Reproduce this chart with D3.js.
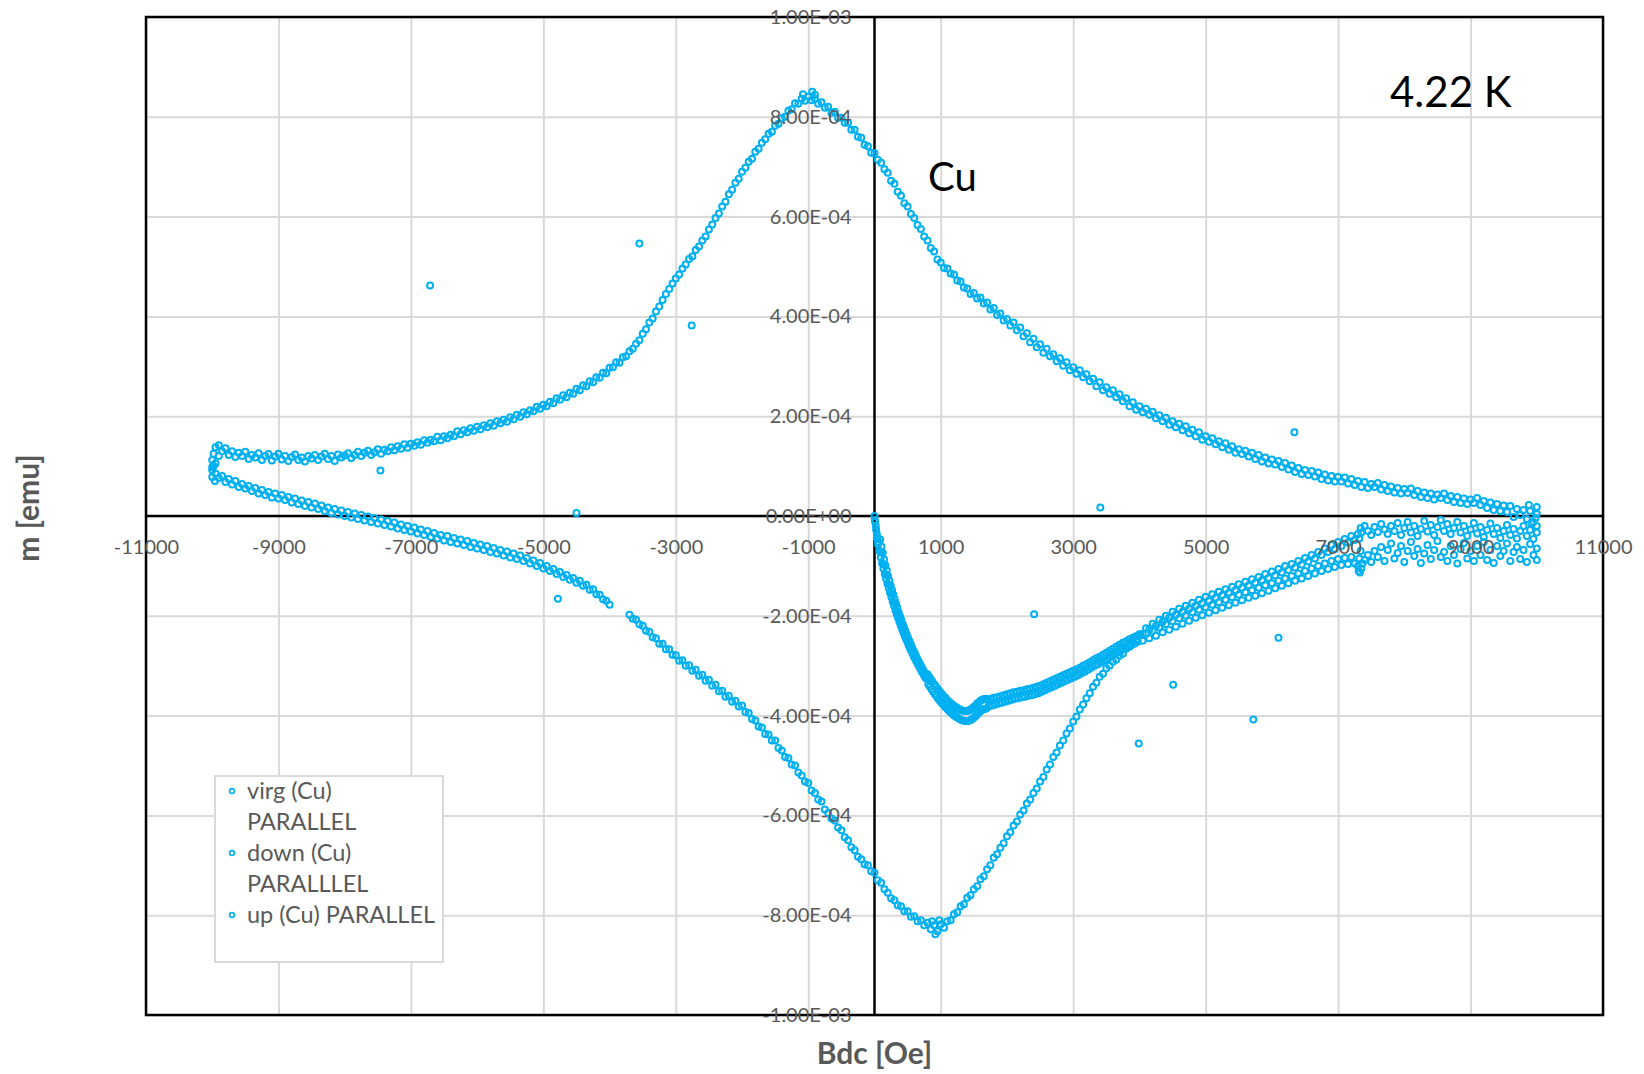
<!DOCTYPE html>
<html>
<head>
<meta charset="utf-8">
<script src="https://cdn.jsdelivr.net/npm/d3@7"></script>
<style>
  body { margin: 0; background: #fff; }
  text { font-family: Lato, "Open Sans", sans-serif; }
</style>
</head>
<body>
<svg id="chart"></svg>
<script>
// Axis ticks (field in Oe, moment in units of 1e-4 emu)
const xTicks = [-11000, -9000, -7000, -5000, -3000, -1000, 1000, 3000, 5000, 7000, 9000, 11000];
const yTicks = [-10, -8, -6, -4, -2, 0, 2, 4, 6, 8, 10];
const yTickLabels = ["-1.00E-03", "-8.00E-04", "-6.00E-04", "-4.00E-04", "-2.00E-04", "0.00E+00",
  "2.00E-04", "4.00E-04", "6.00E-04", "8.00E-04", "1.00E-03"];

const legendLines = [["virg (Cu)", "PARALLEL"], ["down (Cu)", "PARALLLEL"], ["up (Cu) PARALLEL"]];

// virgin curve: [Bdc (Oe), m (1e-4 emu)]
const virgData = [
  [0,0.0],[5,-0.08],[10,-0.12],[20,-0.2],[25,-0.28],[35,-0.36],[45,-0.44],[55,-0.52],
  [35,-0.43],[85,-0.47],[55,-0.57],[105,-0.61],[75,-0.7],[125,-0.74],[95,-0.83],[145,-0.87],
  [115,-0.95],[165,-0.99],[135,-1.05],[185,-1.09],[155,-1.16],[205,-1.2],[175,-1.26],[225,-1.3],
  [195,-1.36],[245,-1.4],[215,-1.45],[265,-1.49],[235,-1.54],[285,-1.58],[255,-1.63],[305,-1.67],
  [275,-1.72],[325,-1.76],[295,-1.8],[345,-1.84],[315,-1.89],[365,-1.93],[335,-1.97],[385,-2.01],
  [355,-2.04],[405,-2.08],[375,-2.12],[425,-2.16],[395,-2.19],[445,-2.23],[415,-2.26],[465,-2.3],
  [435,-2.33],[485,-2.37],[455,-2.4],[505,-2.44],[475,-2.46],[525,-2.5],[495,-2.52],[545,-2.56],
  [515,-2.59],[565,-2.63],[535,-2.65],[585,-2.69],[555,-2.7],[605,-2.74],[575,-2.76],[625,-2.8],
  [595,-2.82],[645,-2.86],[615,-2.87],[665,-2.91],[635,-2.92],[685,-2.96],[655,-2.97],[705,-3.01],
  [675,-3.02],[725,-3.06],[695,-3.07],[745,-3.11],[715,-3.12],[765,-3.16],[735,-3.16],[785,-3.2],
  [755,-3.21],[805,-3.25],[775,-3.25],[825,-3.29],
  [100,-0.72],[140,-0.97],[180,-1.18],[220,-1.38],[260,-1.56],[300,-1.74],[340,-1.91],[380,-2.06],
  [420,-2.21],[460,-2.35],[500,-2.48],[540,-2.61],[580,-2.72],[620,-2.84],[660,-2.94],[700,-3.04],
  [740,-3.14],[780,-3.23],
  [800,-3.17],[812,-3.37],[825,-3.22],[837,-3.42],[850,-3.27],[862,-3.47],[875,-3.32],[887,-3.52],
  [900,-3.37],[912,-3.57],[925,-3.41],[937,-3.61],[950,-3.46],[962,-3.66],[975,-3.5],[987,-3.7],
  [1000,-3.54],[1012,-3.74],[1025,-3.58],[1037,-3.78],[1050,-3.62],[1062,-3.82],[1075,-3.65],[1087,-3.85],
  [1100,-3.69],[1112,-3.89],[1125,-3.72],[1137,-3.92],[1150,-3.75],[1162,-3.95],[1175,-3.78],[1187,-3.98],
  [1200,-3.81],[1212,-4.01],[1225,-3.83],[1237,-4.03],[1250,-3.85],[1262,-4.05],[1275,-3.87],[1287,-4.07],
  [1300,-3.89],[1312,-4.09],[1325,-3.9],[1337,-4.1],[1350,-3.91],[1362,-4.11],[1375,-3.91],[1387,-4.11],
  [1400,-3.91],[1412,-4.11],[1425,-3.9],[1437,-4.1],[1450,-3.88],[1462,-4.08],[1475,-3.86],[1487,-4.06],
  [1500,-3.83],[1512,-4.03],[1525,-3.8],[1537,-4.0],[1550,-3.76],[1562,-3.96],[1575,-3.73],[1587,-3.93],
  [1600,-3.7],[1612,-3.9],[1625,-3.68],[1637,-3.88],[1650,-3.67],[1662,-3.87],[1675,-3.66],[1687,-3.86],
  [1700,-3.68],[1725,-3.82],[1750,-3.66],[1775,-3.8],[1800,-3.64],[1825,-3.78],[1850,-3.63],[1875,-3.76],
  [1900,-3.61],[1925,-3.74],[1950,-3.59],[1975,-3.72],[2000,-3.57],[2025,-3.7],[2050,-3.55],[2075,-3.68],
  [2100,-3.53],[2125,-3.66],[2150,-3.52],[2175,-3.65],[2200,-3.5],[2225,-3.63],[2250,-3.49],[2275,-3.62],
  [2300,-3.47],[2325,-3.6],[2350,-3.46],[2375,-3.59],[2400,-3.44],[2425,-3.57],[2450,-3.42],[2475,-3.55],
  [2500,-3.4],[2525,-3.52],[2550,-3.37],[2575,-3.49],[2600,-3.34],[2625,-3.46],[2650,-3.31],[2675,-3.43],
  [2700,-3.28],[2725,-3.4],[2750,-3.25],[2775,-3.37],[2800,-3.22],[2825,-3.34],[2850,-3.19],[2875,-3.31],
  [2900,-3.16],[2925,-3.28],[2950,-3.13],[2975,-3.25],[3000,-3.1],[3025,-3.22],[3050,-3.07],[3075,-3.19],
  [3100,-3.04],[3125,-3.15],[3150,-3.0],[3175,-3.12],[3200,-2.97],[3225,-3.08],[3250,-2.93],[3275,-3.04],
  [3300,-2.89],[3325,-3.0],[3350,-2.85],[3375,-2.97],[3400,-2.82],[3425,-2.93],[3450,-2.78],[3475,-2.89],
  [3500,-2.74],[3525,-2.85],[3550,-2.7],[3575,-2.81],[3600,-2.66],[3625,-2.77],[3650,-2.62],[3675,-2.73],
  [3700,-2.58],[3725,-2.69],[3750,-2.54],[3775,-2.66],[3800,-2.51],[3825,-2.62],[3850,-2.47],[3875,-2.59],
  [3900,-2.44],[3925,-2.56],[3950,-2.41],[3975,-2.52],[4000,-2.4],
  [4050,-2.5],[4100,-2.36],[4150,-2.45],[4200,-2.3],[4250,-2.4],[4300,-2.24],[4350,-2.33],[4400,-2.17],
  [4450,-2.28],[4500,-2.11],[4550,-2.22],[4600,-2.05],[4650,-2.16],[4700,-2.0],[4750,-2.1],[4800,-1.93],
  [4850,-2.04],[4900,-1.88],[4950,-1.99],[5000,-1.83],[5050,-1.94],[5100,-1.78],[5150,-1.89],[5200,-1.73],
  [5250,-1.84],[5300,-1.68],[5350,-1.79],[5400,-1.63],[5450,-1.74],[5500,-1.58],[5550,-1.69],[5600,-1.53],
  [5650,-1.64],[5700,-1.49],[5750,-1.6],[5800,-1.44],[5850,-1.55],[5900,-1.39],[5950,-1.5],[6000,-1.35],
  [6050,-1.45],[6100,-1.3],[6150,-1.4],[6200,-1.25],[6250,-1.35],[6300,-1.2],[6350,-1.3],[6400,-1.15],
  [6450,-1.25],[6500,-1.1],[6550,-1.2],[6600,-1.05],[6650,-1.15],[6700,-1.0],[6750,-1.1],[6800,-0.95],
  [6850,-1.06],[6900,-0.9],[6950,-1.02],[7000,-0.86],[7050,-0.98],[7100,-0.84],[7150,-0.96],[7200,-0.82],
  [7250,-0.95],
  [7300,-1.0],[7310,-1.1],[7320,-0.85],[7330,-1.13],[7340,-0.7],[7350,-1.05],[7370,-0.95],[7400,-0.88],
  [7450,-0.78],[7500,-0.92],[7550,-0.7],
  [7600,-0.82],[7650,-0.62],[7700,-0.9],[7750,-0.68],[7800,-0.55],[7850,-0.85],[7900,-0.74],[7950,-0.6],
  [8000,-0.92],[8050,-0.7],[8100,-0.52],[8150,-0.8],[8200,-0.66],[8250,-0.94],[8300,-0.75],[8350,-0.58],
  [8400,-0.86],[8450,-0.68],[8500,-0.5],[8550,-0.82],[8600,-0.72],[8650,-0.9],[8700,-0.6],[8750,-0.78],
  [8800,-0.95],[8850,-0.66],[8900,-0.54],[8950,-0.85],[9000,-0.7],[9050,-0.9],[9100,-0.6],[9150,-0.78],
  [9200,-0.52],[9250,-0.88],[9300,-0.68],[9350,-0.94],[9400,-0.6],[9450,-0.8],[9500,-0.7],[9550,-0.55],
  [9600,-0.9],[9650,-0.72],[9700,-0.62],[9750,-0.86],[9800,-0.68],[9850,-0.92],[9900,-0.56],[9950,-0.78],
  [10000,-0.65],[10000,-0.88],
  [3990,-4.56],[5720,-4.08]
];

// down sweep (+10000 -> -10000 Oe)
const downData = [
  [-10000,0.98],[-10000,1.12],[-9980,1.25],[-9950,1.38],[-9950,1.05],[-9900,1.42],[-9900,1.2],[-9850,1.3],
  [-9800,1.36],[-9750,1.22],[-9700,1.3],[-9650,1.18],[-9600,1.27],[-9550,1.2],[-9500,1.29],
  [-9450,1.14],[-9400,1.22],[-9350,1.17],[-9300,1.26],[-9250,1.12],[-9200,1.2],[-9150,1.24],[-9100,1.11],[-9050,1.19],[-9000,1.25],
  [-8950,1.13],[-8900,1.2],[-8850,1.1],[-8800,1.18],[-8750,1.23],[-8700,1.12],[-8650,1.17],[-8600,1.09],[-8550,1.2],[-8500,1.15],
  [-8450,1.22],[-8400,1.12],[-8350,1.19],[-8300,1.25],[-8250,1.14],[-8200,1.2],[-8150,1.1],[-8100,1.23],[-8050,1.17],[-8000,1.21],
  [-7950,1.26],[-7900,1.16],[-7850,1.22],[-7800,1.29],[-7750,1.2],[-7700,1.27],[-7650,1.31],[-7600,1.22],[-7550,1.28],[-7500,1.34],
  [-7450,1.25],[-7400,1.33],[-7350,1.3],[-7300,1.38],[-7250,1.32],[-7200,1.4],[-7150,1.35],[-7100,1.44],[-7050,1.37],[-7000,1.45],
  [-6950,1.41],[-6900,1.48],[-6850,1.43],[-6800,1.52],[-6750,1.47],[-6700,1.53],[-6650,1.5],[-6600,1.59],[-6550,1.52],[-6500,1.6],
  [-6450,1.56],[-6400,1.63],[-6350,1.6],[-6300,1.7],[-6250,1.64],[-6200,1.72],[-6150,1.68],[-6100,1.76],[-6050,1.71],[-6000,1.79],
  [-5950,1.74],[-5900,1.82],[-5850,1.78],[-5800,1.86],[-5750,1.81],[-5700,1.9],[-5650,1.86],[-5600,1.93],[-5550,1.89],[-5500,1.98],
  [-5450,1.94],[-5400,2.03],[-5350,1.99],[-5300,2.08],[-5250,2.04],[-5200,2.12],[-5150,2.1],[-5100,2.19],[-5050,2.15],[-5000,2.23],
  [-4950,2.2],[-4900,2.29],[-4850,2.26],[-4800,2.36],[-4750,2.33],[-4700,2.42],[-4650,2.38],[-4600,2.47],[-4550,2.45],[-4500,2.55],
  [-4450,2.52],[-4400,2.62],[-4350,2.6],[-4300,2.7],[-4250,2.68],[-4200,2.78],[-4150,2.77],[-4100,2.87],[-4050,2.86],[-4000,2.97],
  [-3950,2.98],[-3900,3.08],[-3850,3.07],[-3800,3.18],[-3750,3.2],[-3700,3.3],[-3650,3.35],[-3600,3.45],[-3550,3.52],[-3500,3.65],
  [-3450,3.74],[-3400,3.88],[-3350,3.96],[-3300,4.1],[-3250,4.2],[-3200,4.33],[-3150,4.45],[-3100,4.55],[-3050,4.66],[-3000,4.76],
  [-2950,4.84],[-2900,4.96],[-2850,5.04],[-2800,5.15],[-2750,5.2],[-2700,5.33],[-2650,5.4],[-2600,5.52],[-2550,5.6],[-2500,5.74],
  [-2450,5.84],[-2400,5.97],[-2350,6.06],[-2300,6.2],[-2250,6.3],[-2200,6.45],[-2150,6.54],[-2100,6.68],[-2050,6.76],[-2000,6.9],
  [-1950,6.98],[-1900,7.1],[-1850,7.16],[-1800,7.3],[-1750,7.36],[-1700,7.48],[-1650,7.55],[-1600,7.66],[-1550,7.7],[-1500,7.82],
  [-1450,7.86],[-1400,7.97],[-1350,8.0],[-1300,8.12],[-1250,8.15],[-1200,8.27],[-1150,8.26],[-1100,8.36],[-1050,8.32],[-1000,8.4],
  [-1080,8.45],[-940,8.5],[-900,8.44],
  [-950,8.33],[-900,8.36],[-850,8.26],[-800,8.29],[-750,8.18],[-700,8.2],[-650,8.08],[-600,8.1],[-550,7.98],[-500,7.98],
  [-450,7.88],[-400,7.88],[-350,7.74],[-300,7.74],[-250,7.6],[-200,7.58],[-150,7.44],[-100,7.41],[-50,7.28],[0,7.27],
  [50,7.14],[100,7.08],[150,6.95],[200,6.88],[250,6.72],[300,6.66],[350,6.5],[400,6.42],[450,6.27],[500,6.2],
  [550,6.05],[600,5.97],[650,5.83],[700,5.75],[750,5.6],[800,5.52],[850,5.37],[900,5.3],[950,5.14],[1000,5.08],
  [1050,4.97],[1100,4.96],[1150,4.86],[1200,4.84],[1250,4.72],[1300,4.7],[1350,4.58],[1400,4.56],[1450,4.45],[1500,4.47],
  [1550,4.36],[1600,4.38],[1650,4.26],[1700,4.28],[1750,4.14],[1800,4.17],[1850,4.03],[1900,4.06],[1950,3.92],[2000,3.95],
  [2050,3.82],[2100,3.88],[2150,3.72],[2200,3.78],[2250,3.6],[2300,3.66],[2350,3.48],[2400,3.55],[2450,3.38],[2500,3.44],
  [2550,3.27],[2600,3.35],[2650,3.2],[2700,3.24],[2750,3.1],[2800,3.16],[2850,3.01],[2900,3.08],[2950,2.92],[3000,2.98],
  [3050,2.85],[3100,2.92],[3150,2.78],[3200,2.84],[3250,2.7],[3300,2.75],[3350,2.6],[3400,2.68],[3450,2.52],[3500,2.58],
  [3550,2.45],[3600,2.52],[3650,2.38],[3700,2.44],[3750,2.3],[3800,2.36],[3850,2.2],[3900,2.28],[3950,2.13],[4000,2.2],
  [4050,2.08],[4100,2.15],[4150,2.03],[4200,2.09],[4250,1.96],[4300,2.02],[4350,1.9],[4400,1.97],[4450,1.83],[4500,1.9],
  [4550,1.78],[4600,1.85],[4650,1.72],[4700,1.8],[4750,1.66],[4800,1.73],[4850,1.6],[4900,1.68],[4950,1.53],[5000,1.6],
  [5050,1.49],[5100,1.56],[5150,1.44],[5200,1.5],[5250,1.38],[5300,1.46],[5350,1.33],[5400,1.4],[5450,1.27],[5500,1.34],
  [5550,1.24],[5600,1.31],[5650,1.19],[5700,1.27],[5750,1.14],[5800,1.22],[5850,1.09],[5900,1.17],[5950,1.05],[6000,1.13],
  [6050,1.03],[6100,1.1],[6150,0.98],[6200,1.06],[6250,0.93],[6300,1.01],[6350,0.88],[6400,0.96],[6450,0.84],[6500,0.92],
  [6550,0.82],[6600,0.9],[6650,0.79],[6700,0.87],[6750,0.74],[6800,0.83],[6850,0.71],[6900,0.8],[6950,0.69],[7000,0.78],
  [7050,0.69],[7100,0.77],[7150,0.65],[7200,0.74],[7250,0.62],[7300,0.7],[7350,0.58],[7400,0.68],[7450,0.56],[7500,0.64],
  [7550,0.58],[7600,0.66],[7650,0.53],[7700,0.62],[7750,0.5],[7800,0.59],[7850,0.47],[7900,0.56],[7950,0.45],[8000,0.54],
  [8050,0.46],[8100,0.55],[8150,0.42],[8200,0.5],[8250,0.38],[8300,0.47],[8350,0.36],[8400,0.45],[8450,0.33],[8500,0.43],
  [8550,0.36],[8600,0.45],[8650,0.32],[8700,0.4],[8750,0.28],[8800,0.38],[8850,0.26],[8900,0.35],[8950,0.24],[9000,0.33],
  [9050,0.26],[9100,0.36],[9150,0.22],[9200,0.3],[9250,0.16],[9300,0.27],[9350,0.12],[9400,0.24],[9450,0.1],[9500,0.21],
  [9550,0.08],[9600,0.2],[9650,-0.02],[9700,0.14],[9750,0.02],[9800,0.12],[9850,-0.06],[9900,0.1],[9950,-0.12],[10000,0.04],
  [10000,0.18],[9980,-0.04],[9920,-0.15],[9880,0.22],
  [-6710,4.62],[-3550,5.46],[-2760,3.82],[3410,0.17],[6340,1.68],[-7460,0.91]
];

// up sweep (-10000 -> +10000 Oe)
const upData = [
  [-10000,0.92],[-10000,0.78],[-9980,1.0],[-9960,0.7],[-9950,0.85],[-9900,0.76],[-9850,0.8],[-9800,0.68],
  [-9750,0.74],[-9700,0.63],[-9650,0.7],[-9600,0.58],[-9550,0.64],[-9500,0.55],
  [-9450,0.6],[-9400,0.5],[-9350,0.56],[-9300,0.45],[-9250,0.52],[-9200,0.42],[-9150,0.48],[-9100,0.37],[-9050,0.45],[-9000,0.35],
  [-8950,0.42],[-8900,0.32],[-8850,0.38],[-8800,0.27],[-8750,0.35],[-8700,0.24],[-8650,0.31],[-8600,0.2],[-8550,0.28],[-8500,0.17],
  [-8450,0.25],[-8400,0.14],[-8350,0.21],[-8300,0.1],[-8250,0.17],[-8200,0.06],[-8150,0.14],[-8100,0.03],[-8050,0.11],[-8000,0.0],
  [-7950,0.08],[-7900,-0.03],[-7850,0.05],[-7800,-0.06],[-7750,0.02],[-7700,-0.09],[-7650,-0.01],[-7600,-0.12],[-7550,-0.04],[-7500,-0.15],
  [-7450,-0.07],[-7400,-0.18],[-7350,-0.1],[-7300,-0.21],[-7250,-0.13],[-7200,-0.25],[-7150,-0.17],[-7100,-0.28],[-7050,-0.2],[-7000,-0.31],
  [-6950,-0.23],[-6900,-0.35],[-6850,-0.27],[-6800,-0.38],[-6750,-0.3],[-6700,-0.42],[-6650,-0.34],[-6600,-0.45],[-6550,-0.38],[-6500,-0.49],
  [-6450,-0.4],[-6400,-0.52],[-6350,-0.44],[-6300,-0.55],[-6250,-0.47],[-6200,-0.58],[-6150,-0.5],[-6100,-0.62],[-6050,-0.54],[-6000,-0.65],
  [-5950,-0.57],[-5900,-0.68],[-5850,-0.6],[-5800,-0.72],[-5750,-0.64],[-5700,-0.75],[-5650,-0.68],[-5600,-0.79],[-5550,-0.71],[-5500,-0.83],
  [-5450,-0.75],[-5400,-0.86],[-5350,-0.79],[-5300,-0.9],[-5250,-0.84],[-5200,-0.95],[-5150,-0.89],[-5100,-1.0],[-5050,-0.94],[-5000,-1.05],
  [-4950,-1.0],[-4900,-1.1],[-4850,-1.06],[-4800,-1.16],[-4750,-1.12],[-4700,-1.22],[-4650,-1.18],[-4600,-1.28],[-4550,-1.24],[-4500,-1.34],
  [-4450,-1.3],[-4400,-1.4],[-4350,-1.38],[-4300,-1.48],[-4250,-1.47],[-4200,-1.57],[-4150,-1.58],[-4100,-1.67],[-4050,-1.7],[-4000,-1.78],
  [-3700,-1.98],[-3650,-2.06],[-3600,-2.08],[-3550,-2.17],[-3500,-2.2],[-3450,-2.3],[-3400,-2.32],[-3350,-2.43],[-3300,-2.45],[-3250,-2.56],
  [-3200,-2.56],[-3150,-2.67],[-3100,-2.67],[-3050,-2.78],[-3000,-2.79],[-2950,-2.9],[-2900,-2.89],[-2850,-3.0],[-2800,-2.99],[-2750,-3.1],
  [-2700,-3.08],[-2650,-3.2],[-2600,-3.18],[-2550,-3.3],[-2500,-3.28],[-2450,-3.4],[-2400,-3.38],[-2350,-3.51],[-2300,-3.5],[-2250,-3.62],
  [-2200,-3.6],[-2150,-3.72],[-2100,-3.7],[-2050,-3.82],[-2000,-3.8],[-1950,-3.93],[-1900,-3.95],[-1850,-4.07],[-1800,-4.1],[-1750,-4.22],
  [-1700,-4.24],[-1650,-4.37],[-1600,-4.38],[-1550,-4.5],[-1500,-4.5],[-1450,-4.65],[-1400,-4.7],[-1350,-4.83],[-1300,-4.85],[-1250,-4.98],
  [-1200,-5.0],[-1150,-5.14],[-1100,-5.2],[-1050,-5.32],[-1000,-5.35],[-950,-5.5],[-900,-5.55],[-850,-5.68],[-800,-5.72],[-750,-5.88],
  [-700,-5.95],[-650,-6.06],[-600,-6.1],[-550,-6.24],[-500,-6.3],[-450,-6.44],[-400,-6.5],[-350,-6.64],[-300,-6.7],[-250,-6.83],
  [-200,-6.88],[-150,-6.98],[-100,-7.0],[-50,-7.12],[0,-7.15],[50,-7.3],[100,-7.35],[150,-7.48],[200,-7.55],[250,-7.66],
  [300,-7.7],[350,-7.8],[400,-7.82],[450,-7.92],[500,-7.92],[550,-8.03],[600,-8.02],[650,-8.12],[700,-8.1],[750,-8.2],
  [800,-8.15],[850,-8.28],[900,-8.2],[950,-8.32],[1000,-8.18],[1050,-8.25],[1100,-8.12],[1150,-8.1],[1200,-7.98],[1250,-7.94],
  [920,-8.38],[980,-8.1],[870,-8.12],
  [1300,-7.82],[1350,-7.78],[1400,-7.65],[1450,-7.6],[1500,-7.48],[1550,-7.42],[1600,-7.28],[1650,-7.22],[1700,-7.08],[1750,-7.0],
  [1800,-6.85],[1850,-6.78],[1900,-6.65],[1950,-6.56],[2000,-6.42],[2050,-6.34],[2100,-6.2],[2150,-6.12],[2200,-5.98],[2250,-5.9],
  [2300,-5.76],[2350,-5.68],[2400,-5.55],[2450,-5.46],[2500,-5.32],[2550,-5.23],[2600,-5.08],[2650,-4.98],[2700,-4.83],[2750,-4.74],
  [2800,-4.6],[2850,-4.5],[2900,-4.36],[2950,-4.26],[3000,-4.12],[3050,-4.02],[3100,-3.88],[3150,-3.78],[3200,-3.65],[3250,-3.55],
  [3300,-3.42],[3350,-3.34],[3400,-3.22],[3450,-3.16],[3500,-3.05],[3550,-3.0],[3600,-2.92],[3650,-2.88],[3700,-2.8],[3750,-2.76],
  [3800,-2.66],[3850,-2.62],[3900,-2.5],[3950,-2.5],[4000,-2.37],[4050,-2.36],[4100,-2.25],[4150,-2.27],[4200,-2.16],[4250,-2.2],
  [4300,-2.08],[4350,-2.12],[4400,-2.0],[4450,-2.04],[4500,-1.92],[4550,-1.98],[4600,-1.86],[4650,-1.92],[4700,-1.8],[4750,-1.86],
  [4800,-1.74],[4850,-1.8],[4900,-1.68],[4950,-1.75],[5000,-1.62],[5050,-1.7],[5100,-1.57],[5150,-1.64],[5200,-1.52],[5250,-1.59],
  [5300,-1.47],[5350,-1.54],[5400,-1.42],[5450,-1.49],[5500,-1.37],[5550,-1.44],[5600,-1.32],[5650,-1.39],[5700,-1.27],[5750,-1.34],
  [5800,-1.22],[5850,-1.29],[5900,-1.16],[5950,-1.24],[6000,-1.11],[6050,-1.19],[6100,-1.06],[6150,-1.13],[6200,-1.0],[6250,-1.08],
  [6300,-0.96],[6350,-1.03],[6400,-0.9],[6450,-0.97],[6500,-0.84],[6550,-0.91],[6600,-0.78],[6650,-0.85],[6700,-0.72],[6750,-0.78],
  [6800,-0.65],[6850,-0.72],[6900,-0.58],[6950,-0.66],[7000,-0.52],[7050,-0.6],[7100,-0.46],[7150,-0.53],[7200,-0.4],[7250,-0.48],
  [7300,-0.36],[7320,-0.45],[7340,-0.24],[7350,-0.33],[7400,-0.2],[7450,-0.3],[7500,-0.38],[7550,-0.22],[7600,-0.32],[7650,-0.16],
  [7700,-0.27],[7750,-0.36],
  [7800,-0.2],[7850,-0.3],[7900,-0.14],[7950,-0.38],[8000,-0.24],[8050,-0.12],[8100,-0.33],[8150,-0.2],[8200,-0.4],[8250,-0.26],
  [8300,-0.1],[8350,-0.31],[8400,-0.18],[8450,-0.38],[8500,-0.22],[8550,-0.08],[8600,-0.3],[8650,-0.16],[8700,-0.36],[8750,-0.24],
  [8800,-0.12],[8850,-0.33],[8900,-0.2],[8950,-0.4],[9000,-0.27],[9050,-0.14],[9100,-0.35],[9150,-0.22],[9200,-0.42],[9250,-0.28],
  [9300,-0.15],[9350,-0.36],[9400,-0.24],[9450,-0.44],[9500,-0.3],[9550,-0.18],[9600,-0.38],[9650,-0.26],[9700,-0.45],[9750,-0.3],
  [9800,-0.2],[9850,-0.4],[9900,-0.28],[9950,-0.46],[10000,-0.33],[10000,-0.2],
  [-4500,0.06],[-4780,-1.66],[2410,-1.97],[6100,-2.44],[4510,-3.38]
];

const pointColor = "#00B0F0";
const textGray = "#595959";
const markerR = 3.0;
const markerStroke = 2.0;

// chart area
const margin = { top: 17, right: 41, bottom: 59, left: 146 };
const width = 1644 - margin.left - margin.right;
const height = 1074 - margin.top - margin.bottom;

const svg = d3.select("#chart")
  .attr("width", 1644)
  .attr("height", 1074);

svg.append("rect").attr("width", 1644).attr("height", 1074).attr("fill", "#fff");

const g = svg.append("g")
  .attr("transform", `translate(${margin.left},${margin.top})`);

const x = d3.scaleLinear().domain([-11000, 11000]).range([0, width]);
const y = d3.scaleLinear().domain([-10, 10]).range([height, 0]);

// gridlines
g.append("g")
  .attr("transform", `translate(0,${height})`)
  .call(d3.axisBottom(x).tickValues(xTicks).tickSize(-height).tickFormat(""))
  .call(a => a.select(".domain").remove())
  .selectAll("line").attr("stroke", "#d9d9d9").attr("stroke-width", 2);

g.append("g")
  .call(d3.axisLeft(y).tickValues(yTicks).tickSize(-width).tickFormat(""))
  .call(a => a.select(".domain").remove())
  .selectAll("line").attr("stroke", "#d9d9d9").attr("stroke-width", 2);

// zero axes
g.append("line")
  .attr("x1", 0).attr("x2", width)
  .attr("y1", y(0)).attr("y2", y(0))
  .attr("stroke", "#000").attr("stroke-width", 2.5);
g.append("line")
  .attr("x1", x(0)).attr("x2", x(0))
  .attr("y1", 0).attr("y2", height)
  .attr("stroke", "#000").attr("stroke-width", 2.5);

// frame
g.append("rect")
  .attr("width", width).attr("height", height)
  .attr("fill", "none").attr("stroke", "#000").attr("stroke-width", 2.5);

// points
[virgData, downData, upData].forEach(series => {
  g.append("g").selectAll("circle")
    .data(series)
    .enter()
    .append("circle")
    .attr("cx", d => x(d[0]))
    .attr("cy", d => y(d[1]))
    .attr("r", markerR)
    .attr("fill", "none")
    .attr("stroke", pointColor)
    .attr("stroke-width", markerStroke);
});

// tick labels, sitting on the zero axes
const xAxis = g.append("g")
  .attr("transform", `translate(0,${y(0)})`)
  .call(d3.axisBottom(x).tickValues(xTicks).tickSize(0).tickPadding(24).tickFormat(d => String(d)));
xAxis.select(".domain").remove();
xAxis.selectAll("text").attr("fill", textGray).style("font-size", "20px").style("font-family", "Lato, sans-serif");

const yAxis = g.append("g")
  .attr("transform", `translate(${x(0)},0)`)
  .call(d3.axisLeft(y).tickValues(yTicks).tickSize(0).tickPadding(23)
    .tickFormat((d, i) => yTickLabels[i]));
yAxis.select(".domain").remove();
yAxis.selectAll("text").attr("fill", textGray).style("font-size", "20px").style("font-family", "Lato, sans-serif");

// axis titles
svg.append("text")
  .attr("x", margin.left + width / 2)
  .attr("y", 1064)
  .attr("text-anchor", "middle")
  .attr("fill", textGray)
  .style("font-size", "30px")
  .style("font-weight", "bold")
  .text("Bdc [Oe]");

svg.append("text")
  .attr("transform", "translate(39,508) rotate(-90)")
  .attr("text-anchor", "middle")
  .attr("fill", textGray)
  .style("font-size", "30px")
  .style("font-weight", "bold")
  .text("m [emu]");

// annotations
svg.append("text")
  .attr("x", 1390).attr("y", 107)
  .attr("fill", "#000")
  .style("font-size", "42px")
  .text("4.22 K");

svg.append("text")
  .attr("x", 928).attr("y", 191)
  .attr("fill", "#000")
  .style("font-size", "40px")
  .text("Cu");

// legend
const legend = svg.append("g").attr("transform", "translate(215,776)");
legend.append("rect")
  .attr("width", 228).attr("height", 186)
  .attr("fill", "#fff")
  .attr("stroke", "#d9d9d9").attr("stroke-width", 2);

let row = 0;
legendLines.forEach(lines => {
  const cy = 15 + row * 31;
  legend.append("circle")
    .attr("cx", 17).attr("cy", cy)
    .attr("r", 2.4)
    .attr("fill", "none")
    .attr("stroke", pointColor)
    .attr("stroke-width", 1.6);
  lines.forEach(line => {
    legend.append("text")
      .attr("x", 32)
      .attr("y", 15 + row * 31)
      .attr("dy", "0.35em")
      .attr("fill", textGray)
      .style("font-size", "23.5px")
      .text(line);
    row++;
  });
});
</script>
</body>
</html>
